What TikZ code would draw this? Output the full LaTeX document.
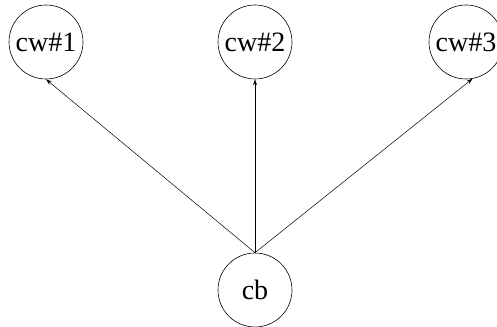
\documentclass[tikz,border=0pt]{standalone}
\usepackage{fontspec}
\setmainfont{Liberation Serif}
\usetikzlibrary{arrows.meta}

\begin{document}
\begin{tikzpicture}[
    x=1pt, y=1pt,
    >={Stealth[length=6pt,width=4pt]},
    worker/.style={circle, draw, line width=0.6pt, inner sep=0pt, minimum size=74pt, font=\fontsize{28}{32}\selectfont},
    boss/.style={circle, draw, line width=0.6pt, inner sep=0pt, minimum size=74pt, font=\fontsize{28}{32}\selectfont},
  ]
  \useasboundingbox (0,0) rectangle (497,326);

  % Nodes
  \node[worker] (cw1) at (46,284)  {cw\#1};
  \node[worker] (cw2) at (255,284) {cw\#2};
  \node[worker] (cw3) at (466,284) {cw\#3};
  \node[boss]   (cb)  at (255,36)  {cb};

  % Edges
  \draw[->, line width=0.5pt] (cb.north) -- (cw1.south);
  \draw[->, line width=0.5pt] (cb.north) -- (cw2.south);
  \draw[->, line width=0.5pt] (cb.north) -- (cw3.-80);

\end{tikzpicture}
\end{document}
